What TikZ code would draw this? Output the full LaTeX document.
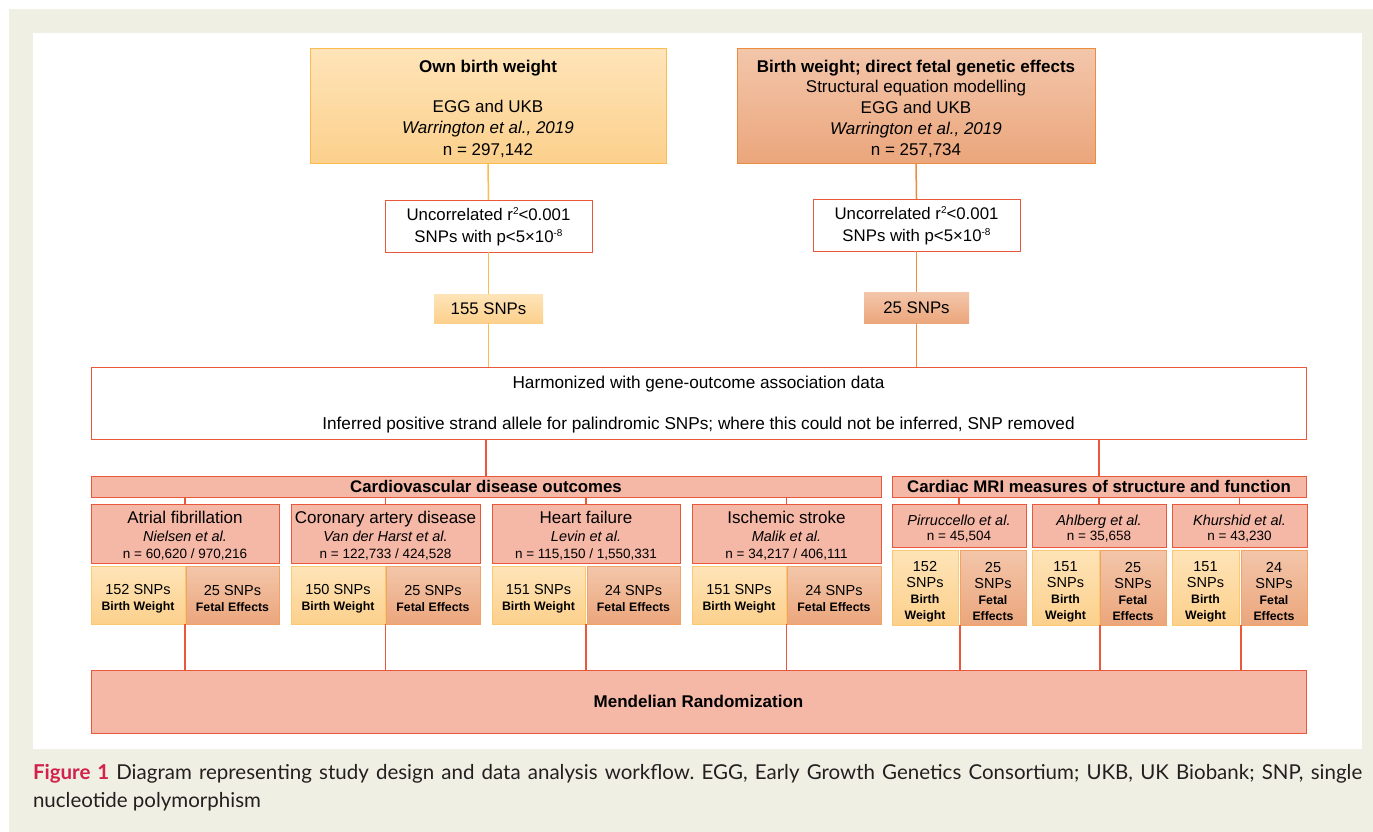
\documentclass[tikz,border=0pt]{standalone}
\usepackage{fontspec}
\setmainfont{Liberation Sans}
\newfontfamily\capfont{Lato}
\definecolor{beige}{RGB}{239,239,227}
\definecolor{yloT}{RGB}{254,228,184}
\definecolor{yloB}{RGB}{252,208,140}
\definecolor{ylline}{RGB}{250,188,78}
\definecolor{orT}{RGB}{243,198,170}
\definecolor{orB}{RGB}{235,166,124}
\definecolor{orline}{RGB}{236,140,62}
\definecolor{salmon}{RGB}{245,183,166}
\definecolor{redline}{RGB}{233,88,58}
\definecolor{capred}{RGB}{210,34,74}
\definecolor{captext}{RGB}{35,31,32}
\newcommand\fs[2]{\fontsize{#1}{#2}\selectfont}
\newcommand\up[1]{\rule{0pt}{#1pt}}
\newcommand\sups[1]{\raisebox{5.5pt}{\fs{10}{10}#1}}
\newcommand\bx[7]{\node[#6, minimum width={#4-#2}, minimum height={#5-#3}] (#1) at ({(#2+#4)/2},{(#3+#5)/2}) {#7};}
\tikzset{
  every node/.style={inner sep=0pt, outer sep=0pt, align=center, text=black},
  topY/.style={draw=ylline, line width=1pt, top color=yloT, bottom color=yloB},
  topO/.style={draw=orline, line width=1pt, top color=orT, bottom color=orB},
  unc/.style={draw=redline, line width=1pt, fill=white},
  snpY/.style={draw=ylline!80!white, line width=0.8pt, top color=yloT, bottom color=yloB},
  snpO/.style={draw=orline!80!white, line width=0.8pt, top color=orT, bottom color=orB},
  sal/.style={draw=redline, line width=1pt, fill=salmon},
  conY/.style={draw=ylline, line width=1.5pt},
  conO/.style={draw=orline, line width=1.5pt},
  conR/.style={draw=redline, line width=1.8pt},
  outc/.style={sal, font=\fs{17}{17.5}},
  snpa/.style={font=\fs{14.5}{16}},
  mric/.style={sal, font=\fs{14.5}{15}},
  mrisnp/.style={font=\fs{14.5}{16}},
}
\newcommand\bw[1]{{\fs{12.3}{15}\textbf{#1}}}
\begin{document}
\begin{tikzpicture}[x=1pt, y=-1pt]
\useasboundingbox (0,0) rectangle (1373,832);
\fill[beige] (9,9) rectangle (1373,832);
\fill[white] (33,33) rectangle (1362,749);

% top boxes
\bx{own}{310}{49}{666}{163}{topY, font=\fs{17}{21.3}}{\up{17.5}\textbf{Own birth weight}\\[19pt]EGG and UKB\\\textit{Warrington et al., 2019}\\n = 297,142}
\bx{fet}{737}{49}{1095}{163}{topO, font=\fs{17}{20.8}}{\up{17.5}\textbf{Birth weight; direct fetal genetic effects}\\Structural equation modelling\\EGG and UKB\\\textit{Warrington et al., 2019}\\n = 257,734}

\bx{unca}{385}{200}{592}{252}{unc, font=\fs{16.8}{22}}{\up{14}Uncorrelated r\sups{2}<0.001\\SNPs with p<5×10\sups{-8}}
\bx{uncb}{813}{199}{1020}{251}{unc, font=\fs{16.8}{22}}{\up{14}Uncorrelated r\sups{2}<0.001\\SNPs with p<5×10\sups{-8}}

\bx{snpa}{434}{294}{543}{323}{snpY,draw=none, font=\fs{16.8}{20}}{155 SNPs}
\bx{snpb}{864}{292}{969}{323}{snpO,draw=none, font=\fs{16.8}{20}}{25 SNPs}

\bx{harm}{91}{367}{1306}{439}{unc, font=\fs{17.2}{20}}{\up{15}Harmonized with gene-outcome association data\\[21pt]Inferred positive strand allele for palindromic SNPs; where this could not be inferred, SNP removed}

% headers
\bx{cvd}{91}{476}{881}{497}{sal, font=\fs{16.8}{20}}{\textbf{Cardiovascular disease outcomes}}
\bx{mri}{892}{476}{1306}{497}{sal, font=\fs{16.8}{20}}{\textbf{Cardiac MRI measures of structure and function}}

% outcome boxes
\bx{af}{91}{504}{279}{563}{outc}{\up{17.5}Atrial fibrillation\\{\fs{14.5}{17}\textit{Nielsen et al.}}\\{\fs{13.5}{17}n = 60,620 / 970,216}}
\bx{cad}{291}{504}{480}{563}{outc}{\up{17.5}Coronary artery disease\\{\fs{14.5}{17}\textit{Van der Harst et al.}}\\{\fs{13.5}{17}n = 122,733 / 424,528}}
\bx{hf}{492}{504}{680}{563}{outc}{\up{17.5}Heart failure\\{\fs{14.5}{17}\textit{Levin et al.}}\\{\fs{13.5}{17}n = 115,150 / 1,550,331}}
\bx{is}{692}{504}{881}{563}{outc}{\up{17.5}Ischemic stroke\\{\fs{14.5}{17}\textit{Malik et al.}}\\{\fs{13.5}{17}n = 34,217 / 406,111}}

\bx{afbw}{91}{566}{185}{624}{snpY,snpa}{\up{17.5}152 SNPs\\\bw{Birth Weight}}
\bx{affe}{186}{566}{279}{624}{snpO,snpa}{\up{17.5}25 SNPs\\\bw{Fetal Effects}}
\bx{cadbw}{291}{566}{385}{624}{snpY,snpa}{\up{17.5}150 SNPs\\\bw{Birth Weight}}
\bx{cadfe}{386}{566}{480}{624}{snpO,snpa}{\up{17.5}25 SNPs\\\bw{Fetal Effects}}
\bx{hfbw}{492}{566}{585}{624}{snpY,snpa}{\up{17.5}151 SNPs\\\bw{Birth Weight}}
\bx{hffe}{587}{566}{680}{624}{snpO,snpa}{\up{17.5}24 SNPs\\\bw{Fetal Effects}}
\bx{isbw}{692}{566}{786}{624}{snpY,snpa}{\up{17.5}151 SNPs\\\bw{Birth Weight}}
\bx{isfe}{787}{566}{881}{624}{snpO,snpa}{\up{17.5}24 SNPs\\\bw{Fetal Effects}}

% MRI boxes
\bx{pir}{892}{504}{1026}{547}{mric}{\up{16.5}\textit{Pirruccello et al.}\\{\fs{13.5}{15}n = 45,504}}
\bx{ahl}{1032}{504}{1166}{547}{mric}{\up{16.5}\textit{Ahlberg et al.}\\{\fs{13.5}{15}n = 35,658}}
\bx{khu}{1172}{504}{1307}{547}{mric}{\up{16.5}\textit{Khurshid et al.}\\{\fs{13.5}{15}n = 43,230}}

\bx{pirbw}{892}{550}{958}{625}{snpY,mrisnp}{\up{18.5}152\\SNPs\\\bw{Birth}\\\bw{Weight}}
\bx{pirfe}{960}{550}{1026}{625}{snpO,mrisnp}{\up{18.5}25\\SNPs\\\bw{Fetal}\\\bw{Effects}}
\bx{ahlbw}{1032}{550}{1099}{625}{snpY,mrisnp}{\up{18.5}151\\SNPs\\\bw{Birth}\\\bw{Weight}}
\bx{ahlfe}{1100}{550}{1166}{625}{snpO,mrisnp}{\up{18.5}25\\SNPs\\\bw{Fetal}\\\bw{Effects}}
\bx{khubw}{1172}{550}{1239}{625}{snpY,mrisnp}{\up{18.5}151\\SNPs\\\bw{Birth}\\\bw{Weight}}
\bx{khufe}{1241}{550}{1307}{625}{snpO,mrisnp}{\up{18.5}24\\SNPs\\\bw{Fetal}\\\bw{Effects}}

\bx{mr}{91}{670}{1306}{733}{sal, font=\fs{17}{20}}{\textbf{Mendelian Randomization}}

% connectors
\draw[conY] (own.south) -- (unca.north);
\draw[conY] (unca.south) -- (snpa.north);
\draw[conY] (snpa.south) -- (snpa.south |- harm.north);
\draw[conO] (fet.south) -- (uncb.north);
\draw[conO] (uncb.south) -- (snpb.north);
\draw[conO] (snpb.south) -- (snpb.south |- harm.north);
\draw[conR] (harm.south -| cvd.north) -- (cvd.north);
\draw[conR] (harm.south -| mri.north) -- (mri.north);
\foreach \n in {af,cad,hf,is}{
  \draw[conR] (\n.north |- cvd.south) -- (\n.north);
  \draw[conR] (\n.south |- \n bw.south) -- (\n.south |- mr.north);
}
\draw[conR] (pir.north |- mri.south) -- (pir.north);
\draw[conR] (ahl.north |- mri.south) -- (ahl.north);
\draw[conR] (khu.north |- mri.south) -- (khu.north);
\draw[conR] (pirfe.south west |- pirbw.south) -- (pirfe.south west |- mr.north);
\draw[conR] (ahlfe.south west |- ahlbw.south) -- (ahlfe.south west |- mr.north);
\draw[conR] (khufe.south west |- khubw.south) -- (khufe.south west |- mr.north);

% caption
\node[anchor=base west, text=captext] (capa) at (33,779) {\capfont\frenchspacing\fs{20.5}{28}\makebox[1329pt][s]{\textcolor{capred}{\textbf{Figure 1}} Diagram representing study design and data analysis workflow. EGG, Early Growth Genetics Consortium; UKB, UK Biobank; SNP, single}};
\node[anchor=base west, text=captext] (capb) at (33,807) {\capfont\fs{20.5}{28}nucleotide polymorphism};
\end{tikzpicture}
\end{document}
